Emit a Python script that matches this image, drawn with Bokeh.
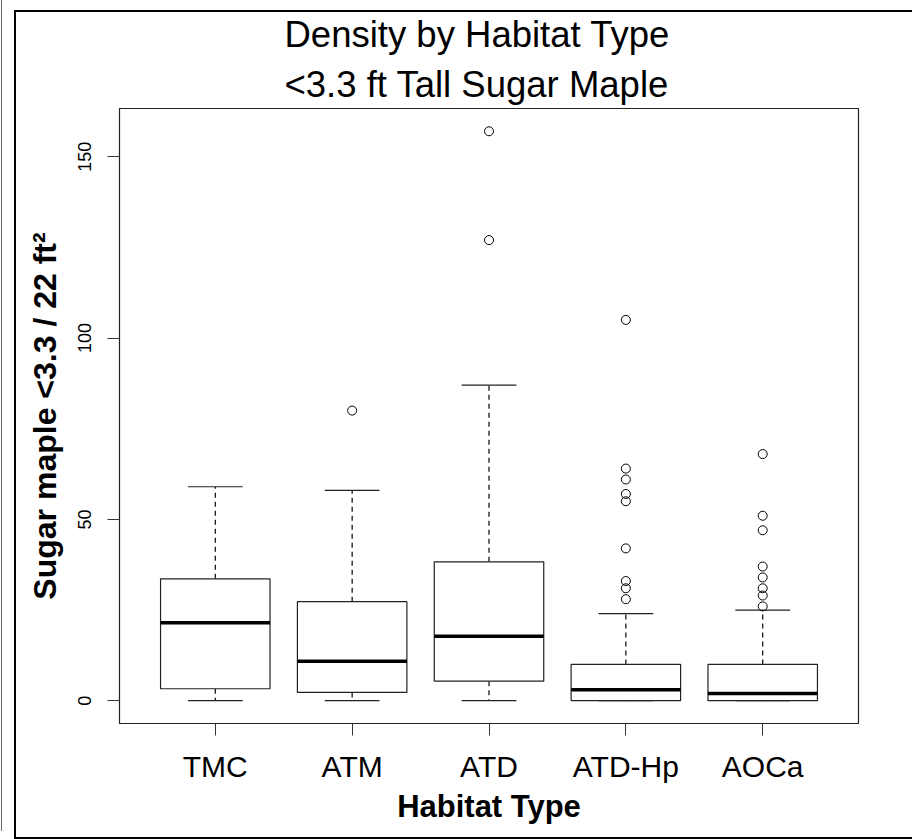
from bokeh.plotting import figure
from bokeh.models import Range1d, FixedTicker, ColumnDataSource
from bokeh.embed import file_html
from bokeh.resources import INLINE

# ---------------- data ----------------
categories = ["TMC", "ATM", "ATD", "ATD-Hp", "AOCa"]
lower_whisker = [0, 0, 0, 0, 0]
q1 = [3.3, 2.3, 5.4, 0, 0]
median = [21.5, 10.9, 17.8, 3, 2]
q3 = [33.6, 27.3, 38.3, 10, 10]
upper_whisker = [59, 58, 87, 24, 25]
outliers_tmc = []
outliers_atm = [80]
outliers_atd = [127, 157]
outliers_atd_hp = [28, 31, 33, 42, 55, 57, 61, 64, 105]
outliers_aoca = [26, 29, 31, 34, 37, 47, 51, 68]
y_ticks = [0, 50, 100, 150]

title_text = "Density by Habitat Type\n<3.3 ft Tall Sugar Maple"
x_title = "Habitat Type"
y_title = "Sugar maple <3.3 / 22 ft\u00b2"

FONT = "Liberation Sans"

# ---------------- derived ----------------
n = len(categories)
pos = list(range(1, n + 1))
outlier_lists = [outliers_tmc, outliers_atm, outliers_atd, outliers_atd_hp, outliers_aoca]
out_x, out_y = [], []
for p_, lst in zip(pos, outlier_lists):
    for v in lst:
        out_x.append(p_)
        out_y.append(v)

all_vals = lower_whisker + upper_whisker + out_y
ymin, ymax = min(all_vals), max(all_vals)
ypad = 0.04 * (ymax - ymin)
xpad = 0.04 * n

box_w = 0.8
cap_w = box_w / 2

src = ColumnDataSource(dict(
    x=pos,
    left=[x - box_w / 2 for x in pos],
    right=[x + box_w / 2 for x in pos],
    cl=[x - cap_w / 2 for x in pos],
    cr=[x + cap_w / 2 for x in pos],
    lw=lower_whisker, q1=q1, med=median, q3=q3, uw=upper_whisker,
))

p = figure(
    width=912, height=839,
    x_range=Range1d(0.5 - xpad, n + 0.5 + xpad),
    y_range=Range1d(ymin - ypad, ymax + ypad),
    output_backend="svg", toolbar_location=None,
    min_border_left=119, min_border_right=54,
    min_border_top=108, min_border_bottom=116,
    background_fill_color="white", border_fill_color=None,
)
# page frame around the graphics device (as in the screenshot)
p.styles = {
    "background-color": "white",
    "background-image": ("linear-gradient(#000,#000), linear-gradient(#000,#000), "
                         "linear-gradient(#000,#000), linear-gradient(#666,#666)"),
    "background-size": "2px 829px, 898px 2px, 898px 2px, 1px 831px",
    "background-position": "14px 10px, 14px 10px, 14px 837px, 1px 0px",
    "background-repeat": "no-repeat",
}

p.xgrid.visible = False
p.ygrid.visible = False
p.outline_line_color = "#222222"
p.outline_line_width = 1.2

# title (two lines)
p.title.text = title_text
p.title.align = "left"
p.title.offset = 165
p.title.text_font = FONT
p.title.text_font_size = "36.5px"
p.title.text_font_style = "normal"
p.title.text_color = "black"
p.title.text_line_height = 1.233
p.title.standoff = 6

# whiskers
p.segment(x0="x", y0="q3", x1="x", y1="uw", source=src,
          line_color="black", line_width=1.2, line_dash="5 4")
p.segment(x0="x", y0="q1", x1="x", y1="lw", source=src,
          line_color="black", line_width=1.2, line_dash="5 4")
# caps
p.segment(x0="cl", y0="uw", x1="cr", y1="uw", source=src,
          line_color="#222222", line_width=1.2)
p.segment(x0="cl", y0="lw", x1="cr", y1="lw", source=src,
          line_color="#222222", line_width=1.2)
# boxes
p.vbar(x="x", width=box_w, bottom="q1", top="q3", source=src,
       fill_color="white", line_color="#222222", line_width=1.2)
# medians
p.segment(x0="left", y0="med", x1="right", y1="med", source=src,
          line_color="black", line_width=3.5)
# outliers
p.scatter(x=out_x, y=out_y, marker="circle", size=9,
          fill_color=None, line_color="black", line_width=1)

# x axis
xa = p.xaxis[0]
xa.ticker = FixedTicker(ticks=pos)
xa.major_label_overrides = {x: c for x, c in zip(pos, categories)}
xa.axis_line_color = None
xa.major_tick_out = 12
xa.major_tick_in = 0
xa.minor_tick_line_color = None
xa.major_tick_line_color = "#333333"
xa.major_label_text_font = FONT
xa.major_label_text_font_size = "30px"
xa.major_label_text_color = "black"
xa.major_label_standoff = 14
xa.axis_label = x_title
xa.axis_label_text_font = FONT
xa.axis_label_text_font_style = "bold"
xa.axis_label_text_font_size = "31px"
xa.axis_label_text_color = "black"
xa.axis_label_standoff = 3

# y axis
ya = p.yaxis[0]
ya.ticker = FixedTicker(ticks=y_ticks)
ya.axis_line_color = None
ya.major_tick_out = 12
ya.major_tick_in = 0
ya.minor_tick_line_color = None
ya.major_tick_line_color = "#333333"
ya.major_label_orientation = "vertical"
ya.major_label_text_font = FONT
ya.major_label_text_font_size = "18px"
ya.major_label_text_color = "black"
ya.major_label_standoff = 16
ya.axis_label = y_title
ya.axis_label_text_font = FONT
ya.axis_label_text_font_style = "bold"
ya.axis_label_text_font_size = "32px"
ya.axis_label_text_color = "black"
ya.axis_label_standoff = 13

open("out.html", "w").write(file_html(p, INLINE))
